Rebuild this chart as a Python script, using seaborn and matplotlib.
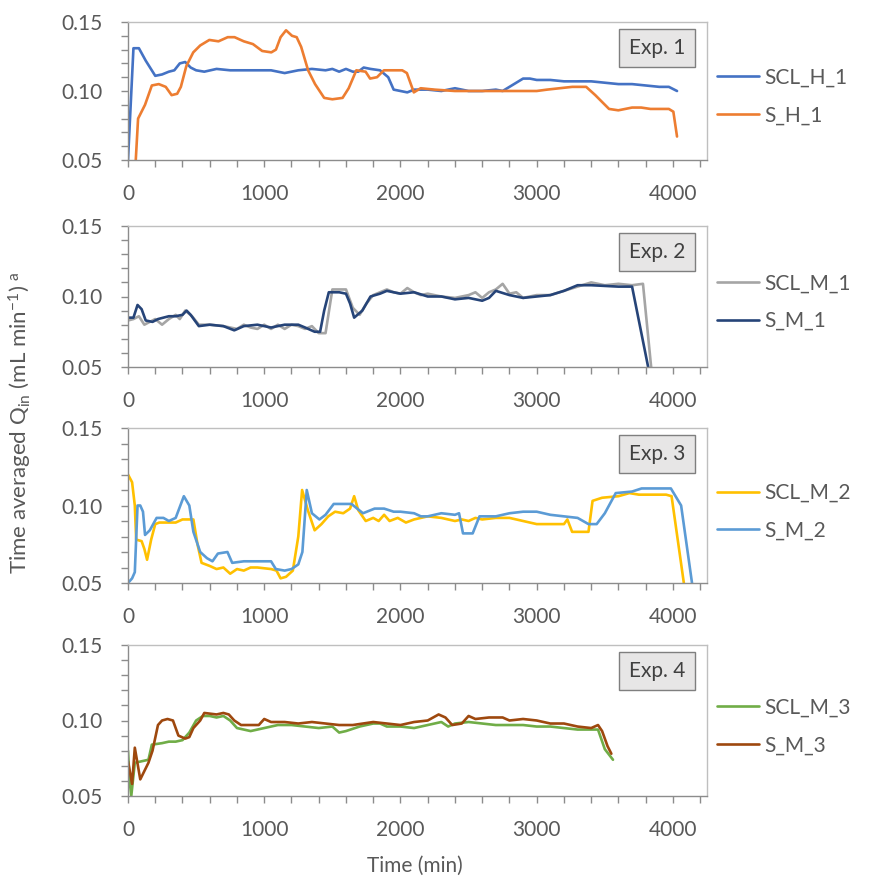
import matplotlib
matplotlib.use("Agg")
import matplotlib.pyplot as plt
import seaborn as sns
import pandas as pd
from matplotlib.ticker import MultipleLocator, FixedLocator

# ---------------- data ----------------
# Exp. 1
t_scl_h_1 = [0, 40, 80, 130, 200, 250, 300, 340, 380, 420, 460, 500, 560, 650, 750, 850, 950, 1050,
             1150, 1250, 1350, 1450, 1500, 1550, 1600, 1650, 1690, 1730, 1780, 1850, 1910, 1950, 2000,
             2050, 2100, 2200, 2300, 2400, 2500, 2600, 2700, 2750, 2850, 2900, 2950, 3000, 3100, 3200,
             3300, 3400, 3500, 3600, 3700, 3800, 3900, 3970, 4030]
q_scl_h_1 = [0.050, 0.131, 0.131, 0.122, 0.111, 0.112, 0.114, 0.115, 0.120, 0.121, 0.117, 0.115,
             0.114, 0.116, 0.115, 0.115, 0.115, 0.115, 0.113, 0.115, 0.116, 0.115, 0.116, 0.114,
             0.116, 0.114, 0.114, 0.117, 0.116, 0.115, 0.110, 0.101, 0.100, 0.099, 0.101, 0.101,
             0.100, 0.102, 0.100, 0.100, 0.101, 0.100, 0.106, 0.109, 0.109, 0.108, 0.108, 0.107,
             0.107, 0.107, 0.106, 0.105, 0.105, 0.104, 0.103, 0.103, 0.100]
t_s_h_1 = [57, 74, 125, 175, 226, 277, 320, 361, 388, 428, 479, 530, 597, 664, 732, 782, 850, 917,
           985, 1052, 1086, 1120, 1160, 1204, 1238, 1271, 1322, 1373, 1440, 1500, 1575, 1620, 1676,
           1744, 1777, 1828, 1878, 1950, 2013, 2047, 2098, 2148, 2250, 2400, 2600, 2800, 3000, 3076,
           3261, 3363, 3430, 3531, 3599, 3700, 3767, 3835, 3970, 4003, 4030]
q_s_h_1 = [0.050, 0.080, 0.090, 0.104, 0.105, 0.103, 0.097, 0.098, 0.103, 0.118, 0.128, 0.133,
           0.137, 0.136, 0.139, 0.139, 0.136, 0.134, 0.129, 0.128, 0.130, 0.139, 0.144, 0.140,
           0.139, 0.132, 0.115, 0.105, 0.095, 0.094, 0.095, 0.102, 0.115, 0.114, 0.109, 0.110,
           0.115, 0.115, 0.115, 0.113, 0.099, 0.102, 0.101, 0.100, 0.100, 0.100, 0.100, 0.101,
           0.103, 0.103, 0.097, 0.087, 0.086, 0.088, 0.088, 0.087, 0.087, 0.085, 0.067]

# Exp. 2
t_scl_m_1 = [0, 40, 80, 120, 160, 200, 250, 300, 350, 380, 420, 470, 520, 600, 700, 800, 850, 900,
             950, 1000, 1050, 1100, 1150, 1200, 1250, 1300, 1350, 1400, 1450, 1500, 1600, 1650,
             1700, 1750, 1800, 1900, 1950, 2000, 2050, 2100, 2150, 2200, 2300, 2400, 2500, 2550,
             2600, 2650, 2700, 2750, 2800, 2850, 2900, 3000, 3100, 3200, 3300, 3400, 3500, 3600,
             3700, 3780, 3840]
q_scl_m_1 = [0.083, 0.084, 0.086, 0.080, 0.082, 0.084, 0.080, 0.084, 0.087, 0.084, 0.090, 0.086,
             0.080, 0.080, 0.079, 0.077, 0.080, 0.078, 0.077, 0.080, 0.077, 0.080, 0.077, 0.080,
             0.079, 0.077, 0.079, 0.074, 0.074, 0.105, 0.105, 0.092, 0.087, 0.095, 0.101, 0.105,
             0.103, 0.102, 0.106, 0.103, 0.101, 0.102, 0.100, 0.099, 0.101, 0.103, 0.099, 0.103,
             0.105, 0.109, 0.102, 0.103, 0.099, 0.101, 0.101, 0.104, 0.107, 0.110, 0.108, 0.109,
             0.108, 0.109, 0.050]
t_s_m_1 = [0, 40, 70, 100, 130, 180, 220, 300, 350, 400, 430, 460, 520, 600, 700, 780, 850, 950,
           1050, 1150, 1250, 1300, 1370, 1410, 1440, 1474, 1550, 1600, 1630, 1660, 1720, 1780,
           1850, 1900, 2000, 2100, 2200, 2300, 2400, 2500, 2600, 2650, 2700, 2800, 2900, 3000,
           3100, 3200, 3300, 3400, 3600, 3700, 3818]
q_s_m_1 = [0.085, 0.085, 0.094, 0.091, 0.083, 0.082, 0.084, 0.086, 0.086, 0.087, 0.090, 0.087,
           0.079, 0.080, 0.079, 0.076, 0.079, 0.080, 0.078, 0.080, 0.080, 0.078, 0.075, 0.075,
           0.090, 0.103, 0.103, 0.102, 0.095, 0.085, 0.090, 0.100, 0.102, 0.104, 0.102, 0.103,
           0.100, 0.100, 0.098, 0.099, 0.097, 0.099, 0.104, 0.101, 0.099, 0.100, 0.101, 0.104,
           0.108, 0.108, 0.107, 0.107, 0.050]

# Exp. 3
t_scl_m_2 = [0, 30, 50, 60, 100, 120, 140, 170, 200, 230, 280, 350, 400, 480, 510, 540, 600, 650,
             700, 750, 800, 850, 900, 950, 1050, 1090, 1120, 1160, 1210, 1250, 1278, 1320, 1370,
             1420, 1470, 1520, 1580, 1630, 1660, 1690, 1745, 1800, 1840, 1880, 1920, 1980, 2040,
             2100, 2200, 2300, 2400, 2450, 2500, 2550, 2600, 2700, 2800, 2900, 3000, 3100, 3200,
             3225, 3260, 3380, 3410, 3480, 3600, 3680, 3750, 3950, 3990, 4080]
q_scl_m_2 = [0.120, 0.115, 0.100, 0.078, 0.077, 0.072, 0.065, 0.078, 0.088, 0.089, 0.089, 0.089,
             0.091, 0.091, 0.075, 0.063, 0.061, 0.059, 0.060, 0.056, 0.059, 0.058, 0.060, 0.060,
             0.059, 0.058, 0.053, 0.054, 0.058, 0.080, 0.110, 0.097, 0.084, 0.088, 0.093, 0.096,
             0.095, 0.098, 0.106, 0.097, 0.090, 0.092, 0.090, 0.094, 0.090, 0.092, 0.089, 0.091,
             0.093, 0.092, 0.090, 0.091, 0.090, 0.092, 0.091, 0.092, 0.092, 0.090, 0.088, 0.088,
             0.088, 0.091, 0.083, 0.083, 0.103, 0.105, 0.106, 0.108, 0.107, 0.107, 0.106, 0.050]
t_s_m_2 = [0, 30, 50, 70, 90, 110, 125, 160, 210, 260, 300, 350, 410, 450, 480, 530, 580, 620, 660,
           730, 765, 850, 950, 1050, 1085, 1150, 1200, 1250, 1280, 1312, 1350, 1405, 1450, 1510,
           1640, 1725, 1810, 1880, 1950, 2000, 2100, 2150, 2200, 2300, 2400, 2430, 2459, 2530,
           2580, 2700, 2800, 2900, 3000, 3100, 3200, 3300, 3380, 3440, 3500, 3580, 3700, 3770,
           3900, 3985, 4060, 4140]
q_s_m_2 = [0.050, 0.053, 0.057, 0.100, 0.100, 0.096, 0.081, 0.084, 0.092, 0.092, 0.090, 0.092,
           0.106, 0.100, 0.083, 0.070, 0.066, 0.064, 0.069, 0.070, 0.063, 0.064, 0.064, 0.064,
           0.059, 0.058, 0.059, 0.062, 0.070, 0.110, 0.095, 0.091, 0.094, 0.101, 0.101, 0.095,
           0.098, 0.098, 0.096, 0.096, 0.095, 0.093, 0.093, 0.095, 0.094, 0.095, 0.082, 0.082,
           0.093, 0.093, 0.095, 0.096, 0.096, 0.094, 0.093, 0.092, 0.088, 0.088, 0.095, 0.108,
           0.109, 0.111, 0.111, 0.111, 0.100, 0.050]

# Exp. 4
t_scl_m_3 = [0, 12, 24, 50, 100, 150, 175, 250, 300, 350, 400, 450, 500, 550, 600, 650, 700, 750,
             800, 850, 900, 1000, 1100, 1200, 1300, 1400, 1500, 1550, 1600, 1700, 1800, 1850, 1900,
             2000, 2100, 2200, 2300, 2350, 2400, 2500, 2600, 2700, 2800, 2900, 3000, 3100, 3200,
             3300, 3400, 3450, 3500, 3560]
q_scl_m_3 = [0.080, 0.060, 0.050, 0.072, 0.073, 0.074, 0.084, 0.085, 0.086, 0.086, 0.087, 0.092,
             0.100, 0.103, 0.103, 0.102, 0.103, 0.100, 0.095, 0.094, 0.093, 0.095, 0.097, 0.097,
             0.096, 0.095, 0.096, 0.092, 0.093, 0.096, 0.098, 0.098, 0.096, 0.096, 0.095, 0.097,
             0.099, 0.096, 0.098, 0.099, 0.098, 0.097, 0.097, 0.097, 0.096, 0.096, 0.095, 0.094,
             0.094, 0.094, 0.081, 0.074]
t_s_m_3 = [0, 30, 50, 90, 150, 180, 220, 250, 290, 330, 370, 420, 450, 480, 530, 560, 650, 700,
           740, 780, 830, 900, 960, 1000, 1050, 1150, 1250, 1350, 1450, 1550, 1650, 1800, 1900,
           2000, 2100, 2200, 2280, 2330, 2380, 2450, 2500, 2550, 2650, 2750, 2800, 2900, 3000,
           3100, 3200, 3300, 3400, 3450, 3480, 3520, 3548]
q_s_m_3 = [0.073, 0.058, 0.082, 0.061, 0.072, 0.080, 0.097, 0.100, 0.101, 0.100, 0.090, 0.088,
           0.089, 0.095, 0.100, 0.105, 0.104, 0.105, 0.104, 0.100, 0.097, 0.097, 0.097, 0.101,
           0.099, 0.099, 0.098, 0.099, 0.098, 0.097, 0.097, 0.099, 0.098, 0.097, 0.099, 0.100,
           0.104, 0.102, 0.097, 0.098, 0.103, 0.101, 0.102, 0.102, 0.100, 0.101, 0.100, 0.098,
           0.098, 0.096, 0.095, 0.097, 0.093, 0.083, 0.078]

panels = [
    ("Exp. 1", [("SCL_H_1", t_scl_h_1, q_scl_h_1, "#4472C4"), ("S_H_1", t_s_h_1, q_s_h_1, "#ED7D31")]),
    ("Exp. 2", [("SCL_M_1", t_scl_m_1, q_scl_m_1, "#A5A5A5"), ("S_M_1", t_s_m_1, q_s_m_1, "#264478")]),
    ("Exp. 3", [("SCL_M_2", t_scl_m_2, q_scl_m_2, "#FFC000"), ("S_M_2", t_s_m_2, q_s_m_2, "#5B9BD5")]),
    ("Exp. 4", [("SCL_M_3", t_scl_m_3, q_scl_m_3, "#70AD47"), ("S_M_3", t_s_m_3, q_s_m_3, "#9E480E")]),
]

# ---------------- style ----------------
sns.set_theme(style="white")
plt.rcParams["font.family"] = ["Lato", "DejaVu Sans"]
plt.rcParams["mathtext.default"] = "regular"
TXT = "#595959"
FS = 15

fig = plt.figure(figsize=(8.71, 8.92), dpi=100)
W, H = 871.0, 892.0
# (top px, bottom px)
rows = [(22, 160), (226, 367), (428, 583), (645, 796)]
left_px, right_px = 128, 707

for (title, series), (top, bot) in zip(panels, rows):
    ax = fig.add_axes([left_px / W, 1 - bot / H, (right_px - left_px) / W, (bot - top) / H])
    for name, t, q, col in series:
        df = pd.DataFrame({"Time (min)": t, "Q": q})
        sns.lineplot(data=df, x="Time (min)", y="Q", ax=ax, color=col, linewidth=1.9,
                     label=name, legend=False)
    ax.set_xlim(0, 4250)
    ax.set_ylim(0.05, 0.15)
    ax.set_xlabel("")
    ax.set_ylabel("")
    ax.xaxis.set_major_locator(FixedLocator([0, 1000, 2000, 3000, 4000]))
    ax.xaxis.set_minor_locator(MultipleLocator(200))
    ax.yaxis.set_major_locator(FixedLocator([0.05, 0.10, 0.15]))
    ax.yaxis.set_minor_locator(MultipleLocator(0.01))
    ax.set_yticklabels(["0.05", "0.10", "0.15"])
    ax.tick_params(axis="both", which="both", direction="out", length=5, width=1,
                   color="#8C8C8C", labelcolor=TXT, labelsize=FS, left=True, bottom=True)
    ax.tick_params(axis="y", which="both", pad=13)
    ax.tick_params(axis="x", which="both", pad=12)
    for s in ["top", "right"]:
        ax.spines[s].set_color("#BFBFBF")
        ax.spines[s].set_linewidth(1)
    for s in ["left", "bottom"]:
        ax.spines[s].set_color("#8C8C8C")
        ax.spines[s].set_linewidth(1)
    ax.annotate(title, xy=(1, 1), xycoords="axes fraction", xytext=(-50, -26),
                textcoords="offset pixels", ha="center", va="center", fontsize=FS, color="#404040",
                bbox=dict(boxstyle="square,pad=0.45", facecolor="#E7E6E6", edgecolor="#7F7F7F",
                          linewidth=1))
    leg = ax.legend(loc="center left", bbox_to_anchor=(1.018, 0.46), frameon=False, fontsize=FS,
                    handlelength=2.0, handletextpad=0.25, borderpad=0, borderaxespad=0,
                    labelspacing=0.85)
    for txt in leg.get_texts():
        txt.set_color(TXT)

fig.text(20 / W, 1 - 423 / H, r"Time averaged Q$_{in}$ (mL min$^{-1}$) $^{a}$", rotation=90,
         ha="center", va="center", fontsize=FS + 1, color=TXT)
fig.text(415 / W, 1 - 866 / H, "Time (min)", ha="center", va="center", fontsize=FS, color=TXT)

fig.savefig("out.png", dpi=100)
